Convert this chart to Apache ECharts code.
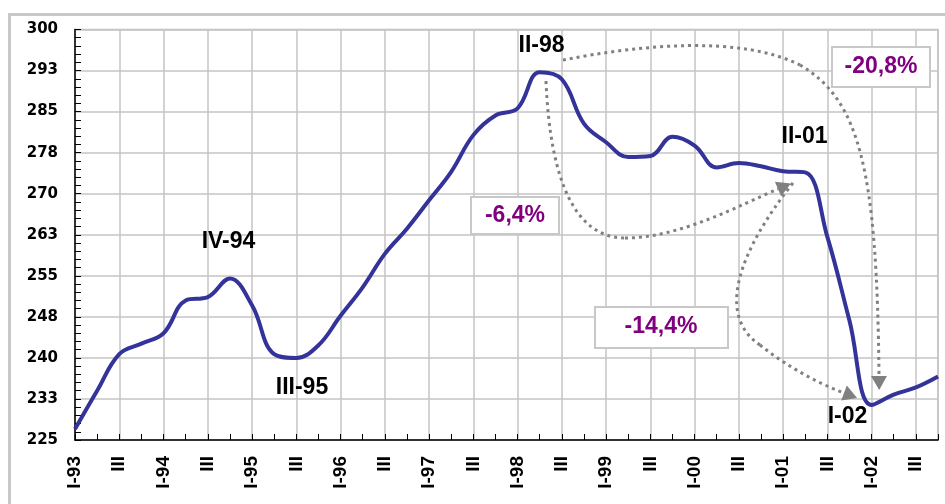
<!DOCTYPE html>
<html>
<head>
<meta charset="utf-8">
<script src="https://cdn.jsdelivr.net/npm/echarts@6/dist/echarts.min.js"></script>
<style>
  html, body { margin: 0; padding: 0; background: #ffffff; }
  #chart { width: 945px; height: 504px; }
</style>
</head>
<body>
<div id="chart"></div>
<script>
// Quarterly index, I-1993 .. IV-2002
const quarters = [
  'I-93','II-93','III-93','IV-93','I-94','II-94','III-94','IV-94',
  'I-95','II-95','III-95','IV-95','I-96','II-96','III-96','IV-96',
  'I-97','II-97','III-97','IV-97','I-98','II-98','III-98','IV-98',
  'I-99','II-99','III-99','IV-99','I-00','II-00','III-00','IV-00',
  'I-01','II-01','III-01','IV-01','I-02','II-02','III-02','IV-02'
];

const indexValues = [
  227.0, 234.0, 240.7, 242.6, 244.5, 250.5, 251.1, 254.5,
  249.6, 240.7, 240.0, 242.3, 247.7, 252.9, 259.0, 263.6,
  268.8, 274.0, 280.7, 284.3, 285.6, 292.2, 290.9, 282.8,
  279.4, 276.7, 276.9, 280.4, 278.8, 274.8, 275.6, 275.0,
  274.1, 273.9, 262.1, 246.8, 231.4, 233.3, 234.6, 236.6
];

// Category axis labels (every second quarter)
const xTickLabels = [
  'I-93','','III','','I-94','','III','','I-95','','III','',
  'I-96','','III','','I-97','','III','','I-98','','III','',
  'I-99','','III','','I-00','','III','','I-01','','III','',
  'I-02','','III',''
];

// Value axis labels, one per 7.5 step from 225 to 300
const yTickLabels = ['225','233','240','248','255','263','270','278','285','293','300'];
const yMin = 225, yMax = 300, yStep = 7.5;

const chart = echarts.init(document.getElementById('chart'), null, { renderer: 'canvas' });

const annFont = 'bold 23px "Liberation Sans", Arial, sans-serif';
const dotted = { stroke: '#808080', lineWidth: 3, lineDash: [3, 4], fill: null };

function curve(x1, y1, c1x, c1y, c2x, c2y, x2, y2) {
  return {
    type: 'bezierCurve', z: 10,
    shape: { x1: x1, y1: y1, cpx1: c1x, cpy1: c1y, cpx2: c2x, cpy2: c2y, x2: x2, y2: y2 },
    style: dotted
  };
}

function arrowHead(fromX, fromY, endX, endY, len, half) {
  const dx = endX - fromX, dy = endY - fromY;
  const d = Math.sqrt(dx * dx + dy * dy);
  const ux = dx / d, uy = dy / d;
  const tipX = endX + ux * len, tipY = endY + uy * len;
  return {
    type: 'polygon', z: 11,
    shape: { points: [
      [tipX, tipY],
      [endX - uy * half, endY + ux * half],
      [endX + uy * half, endY - ux * half]
    ] },
    style: { fill: '#808080' }
  };
}

function label(text, x, y, color) {
  return {
    type: 'text', z: 12, x: x, y: y,
    style: { text: text, font: annFont, fill: color || '#000000', align: 'center', verticalAlign: 'middle' }
  };
}

function box(x, y, w, h) {
  return {
    type: 'rect', z: 11,
    shape: { x: x, y: y, width: w, height: h },
    style: { fill: '#ffffff', stroke: '#c8c8c8', lineWidth: 2 }
  };
}

const option = {
  backgroundColor: '#ffffff',
  animation: false,
  grid: {
    left: 75, right: 7, top: 29.5, bottom: 64,
    show: true, borderColor: '#c4c4c4', borderWidth: 1.5, backgroundColor: 'transparent'
  },
  xAxis: {
    type: 'category',
    data: quarters,
    boundaryGap: false,
    axisLine: { show: true, lineStyle: { color: '#000000', width: 1.5 } },
    axisTick: { show: true, inside: true, length: 6, interval: 0, lineStyle: { color: '#000000', width: 1 } },
    axisLabel: {
      interval: 0, rotate: 90, margin: 16,
      fontFamily: '"Liberation Sans", Arial, sans-serif',
      fontWeight: 'bold', fontSize: 19, color: '#000000',
      formatter: function (v, i) { return xTickLabels[i]; }
    },
    splitLine: { show: true, interval: 1, lineStyle: { color: '#c4c4c4', width: 1.5 } }
  },
  yAxis: {
    type: 'value',
    min: yMin, max: yMax, interval: yStep,
    axisLine: { show: true, lineStyle: { color: '#000000', width: 1.5 } },
    axisTick: { show: true, inside: true, length: 6, lineStyle: { color: '#000000', width: 1 } },
    minorTick: { show: true, splitNumber: 5, length: 6, lineStyle: { color: '#000000', width: 1 } },
    axisLabel: {
      margin: 17,
      fontFamily: '"DejaVu Sans", sans-serif',
      fontWeight: 'bold', fontSize: 15, color: '#000000',
      formatter: function (v) { return yTickLabels[Math.round((v - yMin) / yStep)]; }
    },
    splitLine: { show: true, lineStyle: { color: '#c4c4c4', width: 1.5 } }
  },
  series: [{
    type: 'line',
    data: indexValues,
    smooth: 0.4,
    showSymbol: false,
    lineStyle: { color: '#333399', width: 4 },
    z: 5
  }],
  graphic: [
    // outer frame
    { type: 'rect', z: 0, silent: true,
      shape: { x: 9.5, y: 14.5, width: 960, height: 520 },
      style: { fill: null, stroke: '#c8c8c8', lineWidth: 3 } },

    // II-98 -> II-01
    curve(546, 81, 550, 180, 575, 238, 625, 238),
    curve(625, 238, 680, 238, 740, 205, 778, 189),
    arrowHead(740, 205, 778, 189, 14, 8),

    // II-98 -> I-02
    curve(563, 60, 640, 45, 740, 35, 800, 65),
    curve(800, 65, 860, 100, 877, 170, 879, 376),
    arrowHead(878, 300, 879, 376, 14, 8),

    // II-01 -> I-02
    curve(793, 183, 740, 250, 715, 315, 760, 345),
    curve(760, 345, 785, 365, 815, 382, 844, 393),
    arrowHead(815, 382, 844, 393, 14, 8),

    // point labels
    label('II-98', 541.5, 46),
    label('IV-94', 228.5, 242),
    label('III-95', 302, 388),
    label('II-01', 804.5, 137),
    label('I-02', 847.5, 417),

    // change boxes
    box(832, 47, 98, 40),
    label('-20,8%', 881, 67, '#800080'),
    box(471, 197, 88, 37),
    label('-6,4%', 515, 215.5, '#800080'),
    box(595, 307, 133, 41),
    label('-14,4%', 661, 327, '#800080')
  ]
};

chart.setOption(option);
</script>
</body>
</html>
